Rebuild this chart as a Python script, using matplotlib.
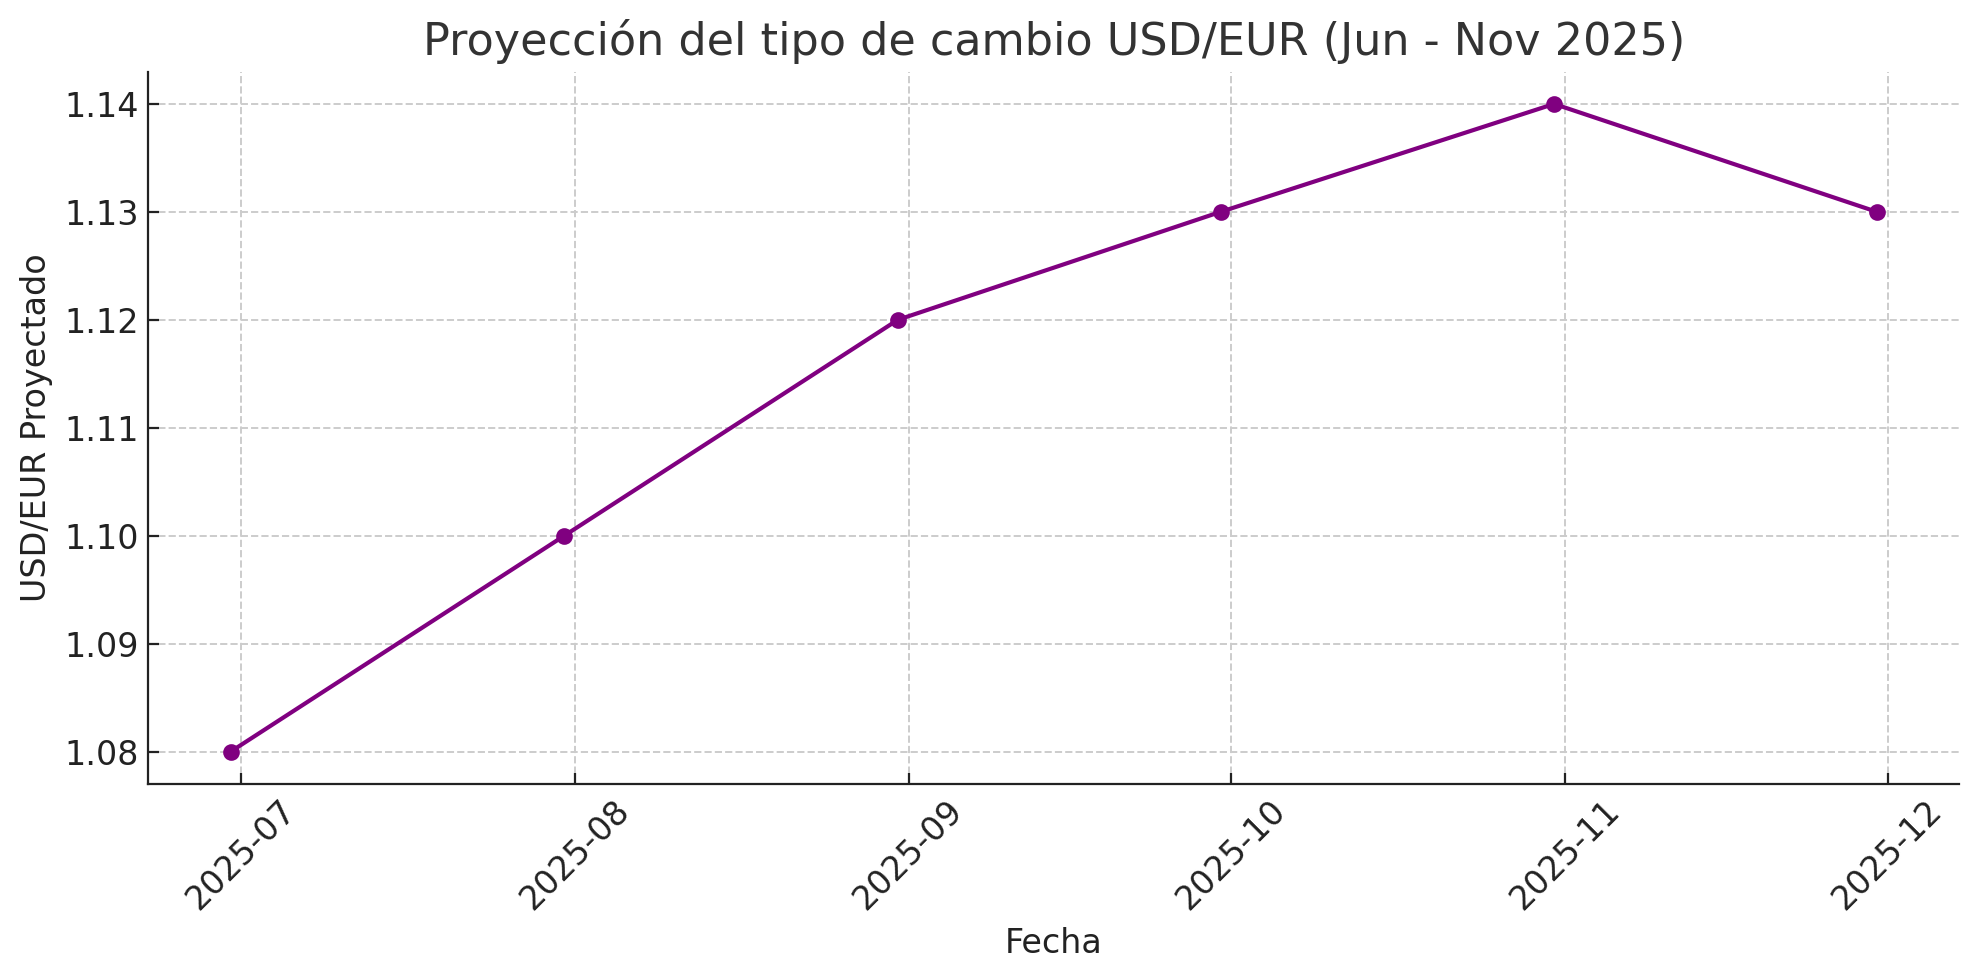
import matplotlib
matplotlib.use("Agg")
import matplotlib.pyplot as plt
import matplotlib.dates as mdates
import pandas as pd

# datos
fechas = pd.to_datetime(["2025-06-30", "2025-07-31", "2025-08-31",
                          "2025-09-30", "2025-10-31", "2025-11-30"])
usd_eur = [1.08, 1.10, 1.12, 1.13, 1.14, 1.13]
y_ticks = [1.08, 1.09, 1.10, 1.11, 1.12, 1.13, 1.14]

fig = plt.figure(figsize=(9.895, 4.9), dpi=200)
ax = fig.add_axes([0.075, 0.2, 0.915, 0.727])

ax.plot(fechas, usd_eur, marker="o", color="purple", linewidth=1.5, markersize=5)

ax.set_title("Proyección del tipo de cambio USD/EUR (Jun - Nov 2025)", fontsize=16, color="#333333")
ax.set_xlabel("Fecha", fontsize=12, color="#222222")
ax.set_ylabel("USD/EUR Proyectado", fontsize=12, color="#222222")
ax.set_yticks(y_ticks)
ax.set_yticklabels([f"{v:.2f}" for v in y_ticks])
ax.xaxis.set_major_locator(mdates.MonthLocator())
ax.xaxis.set_major_formatter(mdates.DateFormatter("%Y-%m"))
ax.tick_params(direction="in", labelsize=12, colors="#222222", length=4)
plt.setp(ax.get_xticklabels(), rotation=45)
ax.grid(True, linestyle="--", color="#cccccc", linewidth=0.7)
ax.spines["top"].set_visible(False)
ax.spines["right"].set_visible(False)
ax.spines["left"].set_color("#222222")
ax.spines["bottom"].set_color("#222222")

fig.savefig("out.png", dpi=200)
